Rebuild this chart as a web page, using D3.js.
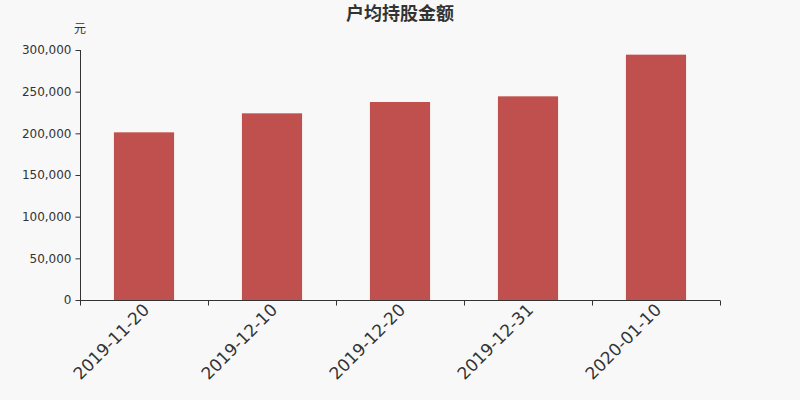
<!DOCTYPE html>
<html>
<head>
<meta charset="utf-8">
<script src="https://cdn.jsdelivr.net/npm/d3@7"></script>
<style>
  body { margin: 0; background: #f8f8f8; }
  svg text { font-family: "DejaVu Sans", "Noto Sans CJK SC", sans-serif; }
</style>
</head>
<body>
<div id="chart"></div>
<script>
// chart data
var dates = ['2019-11-20', '2019-12-10', '2019-12-20', '2019-12-31', '2020-01-10'];
var values = [201200, 224000, 237600, 244400, 294400];
var yTicks = [0, 50000, 100000, 150000, 200000, 250000, 300000];

// canvas size
var width = 800;
var height = 400;
var margin = { top: 50, right: 80, bottom: 100, left: 80 };

var svg = d3.select('#chart').append('svg')
  .attr('width', width)
  .attr('height', height);

svg.append('rect')
  .attr('width', width)
  .attr('height', height)
  .attr('fill', '#f8f8f8');

var x = d3.scaleBand()
  .domain(dates)
  .range([margin.left, width - margin.right])
  .paddingInner(0.53)
  .paddingOuter(0.265);

var y = d3.scaleLinear()
  .domain([0, 300000])
  .range([height - margin.bottom, margin.top]);

// title and unit
svg.append('text')
  .attr('x', width / 2)
  .attr('y', 20)
  .attr('text-anchor', 'middle')
  .attr('font-size', '18px')
  .attr('font-weight', 'bold')
  .attr('fill', '#333')
  .text('户均持股金额');

svg.append('text')
  .attr('x', 80)
  .attr('y', 33)
  .attr('text-anchor', 'middle')
  .attr('font-size', '12px')
  .attr('fill', '#333')
  .text('元');

// bars
svg.selectAll('rect.bar').data(values)
  .enter().append('rect')
  .attr('class', 'bar')
  .attr('x', function (d, i) { return x(dates[i]); })
  .attr('width', x.bandwidth())
  .attr('y', function (d) { return y(d); })
  .attr('height', function (d) { return y(0) - y(d); })
  .attr('fill', '#c0504d');

// y axis
var yAxis = svg.append('g')
  .attr('transform', 'translate(' + (margin.left + 0.5) + ',0)')
  .call(d3.axisLeft(y).tickValues(yTicks).tickSize(5).tickPadding(4)
    .tickFormat(d3.format(',')));
yAxis.attr('font-family', null);
yAxis.select('.domain').attr('stroke', '#333').attr('d', 'M0,' + y(300000) + 'V' + y(0));
yAxis.selectAll('.tick line').attr('stroke', '#333');
yAxis.selectAll('.tick text').attr('fill', '#333').attr('font-size', '12px');

// x axis: ticks on band boundaries
var xAxis = svg.append('g')
  .attr('transform', 'translate(0,' + (y(0) + 0.5) + ')');
xAxis.append('line')
  .attr('x1', margin.left)
  .attr('x2', width - margin.right)
  .attr('stroke', '#333');
var step = x.step();
var bounds = d3.range(dates.length + 1).map(function (i) { return margin.left + i * step; });
xAxis.selectAll('line.tk').data(bounds)
  .enter().append('line')
  .attr('class', 'tk')
  .attr('x1', function (d) { return Math.round(d) + 0.5; })
  .attr('x2', function (d) { return Math.round(d) + 0.5; })
  .attr('y1', 0)
  .attr('y2', 5)
  .attr('stroke', '#333');
xAxis.selectAll('text').data(dates)
  .enter().append('text')
  .attr('transform', function (d) {
    return 'translate(' + (x(d) + x.bandwidth() / 2 - 2) + ',2) rotate(-45)';
  })
  .attr('text-anchor', 'end')
  .attr('dy', '0.7em')
  .attr('font-size', '17px')
  .attr('fill', '#333')
  .text(function (d) { return d; });
</script>
</body>
</html>
